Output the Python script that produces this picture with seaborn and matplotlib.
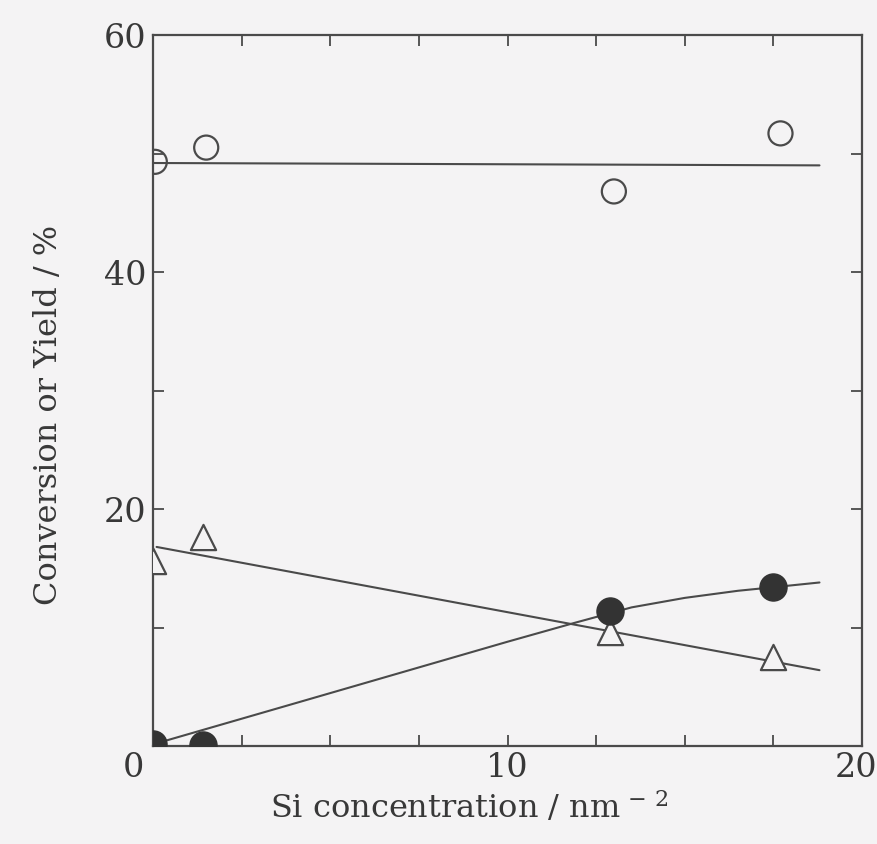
import matplotlib
matplotlib.use("Agg")
import matplotlib.pyplot as plt
from matplotlib.transforms import ScaledTranslation
import seaborn as sns

# data
si_conc_open = [0.05, 1.5, 13.0, 17.7]
conversion = [49.3, 50.5, 46.8, 51.7]
conv_fit_x = [0.0, 18.8]
conv_fit_y = [49.2, 49.0]

si_conc_tri = [0.0, 1.4, 12.9, 17.5]
yield_tri = [15.6, 17.6, 9.6, 7.5]
tri_fit_x = [0.1, 18.8]
tri_fit_y = [16.8, 6.4]

si_conc_fill = [0.0, 1.4, 12.9, 17.5]
yield_fill = [0.2, 0.1, 11.4, 13.4]
fill_fit_x = [0.3, 4.0, 7.0, 10.0, 11.9, 13.5, 15.0, 16.5, 17.5, 18.8]
fill_fit_y = [0.4, 3.6, 6.2, 8.8, 10.4, 11.7, 12.5, 13.1, 13.4, 13.8]

x_ticklabels = ["0", "10", "20"]
y_ticklabels = ["", "20", "40", "60"]

sns.set_theme(style="ticks")
plt.rcParams["font.family"] = ["DejaVu Serif", "Liberation Serif"]
plt.rcParams["mathtext.fontset"] = "dejavuserif"
bg = "#f4f3f4"
ink = "#4a4a4a"
txt = "#383838"

fig = plt.figure(figsize=(8.78, 8.44), dpi=100, facecolor=bg)
ax = fig.add_axes([0.1743, 0.1161, 0.9818 - 0.1743, 0.9585 - 0.1161])
ax.set_facecolor(bg)

lw = 1.5
sns.lineplot(x=conv_fit_x, y=conv_fit_y, ax=ax, color=ink, lw=lw, sort=False)
sns.lineplot(x=tri_fit_x, y=tri_fit_y, ax=ax, color=ink, lw=lw, sort=False)
sns.lineplot(x=fill_fit_x, y=fill_fit_y, ax=ax, color=ink, lw=lw, sort=False)

sns.scatterplot(x=si_conc_open, y=conversion, ax=ax, marker="o", s=300,
                facecolor="none", edgecolor=ink, linewidth=1.6, zorder=5)
sns.scatterplot(x=si_conc_tri, y=yield_tri, ax=ax, marker="^", s=330,
                facecolor=bg, edgecolor=ink, linewidth=1.6, zorder=5)
sns.scatterplot(x=si_conc_fill, y=yield_fill, ax=ax, marker="o", s=380,
                color="#333333", edgecolor="#333333", linewidth=1, zorder=6)

ax.set_xlim(0, 20)
ax.set_ylim(0, 60)
ax.set_xticks([0, 10, 20])
ax.set_xticklabels(x_ticklabels)
ax.set_xticks([2.5, 5, 7.5, 12.5, 15, 17.5], minor=True)
ax.set_yticks([0, 20, 40, 60])
ax.set_yticklabels(y_ticklabels)
ax.set_yticks([10, 30, 50], minor=True)
ax.tick_params(which="both", direction="in", top=True, right=True,
               length=8, width=1.3, color=ink, labelsize=24,
               labelcolor=txt)
ax.tick_params(axis="x", pad=4)
ax.tick_params(axis="y", pad=5)
for s in ax.spines.values():
    s.set_color(ink)
    s.set_linewidth(1.6)

# the "0" label sits left of the origin in the reference; "20" kept inside
xl = ax.get_xticklabels()
xl[0].set_transform(xl[0].get_transform() + ScaledTranslation(-0.2, 0, fig.dpi_scale_trans))
xl[2].set_transform(xl[2].get_transform() + ScaledTranslation(-0.06, 0, fig.dpi_scale_trans))

ax.set_xlabel("Si concentration / nm$^{\\,-\\,2}$", fontsize=23, color=txt)
ax.xaxis.set_label_coords(0.446, -0.062)
ax.set_ylabel("Conversion or Yield / %", fontsize=23, color=txt)
ax.yaxis.set_label_coords(-0.125, 0.466)

fig.savefig("out.png", dpi=100, facecolor=bg)
